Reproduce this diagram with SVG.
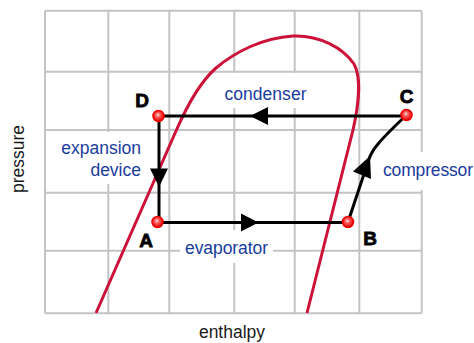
<svg xmlns="http://www.w3.org/2000/svg" width="474" height="343" viewBox="0 0 474 343">
<style>
.grid{stroke:#c4c4c4;stroke-width:2;fill:none}
.lbl{font-family:"Liberation Sans",Arial,sans-serif;font-size:17.5px;fill:#1a3c9e}
.axis{font-family:"Liberation Sans",Arial,sans-serif;font-size:17.5px;fill:#1a1a1a}
.pt{font-family:"Liberation Sans",Arial,sans-serif;font-size:19px;font-weight:bold;fill:#000;stroke:#000;stroke-width:0.8}
.edge{stroke:#000;stroke-width:3;fill:none}
.node{fill:url(#ball);stroke:#ee0000;stroke-width:1.5}
.bg{fill:#fff}
</style>
<defs>
<radialGradient id="ball" cx="0.45" cy="0.4" r="0.6">
<stop offset="0" stop-color="#ffe0e0"/>
<stop offset="0.35" stop-color="#ff5a5a"/>
<stop offset="1" stop-color="#e00000"/>
</radialGradient>
</defs>
<rect width="474" height="343" fill="#fff"/>
<g id="grid">
<path class="grid" d="M45,10.7V313.3 M108.3,10.7V313.3 M169.3,10.7V313.3 M234.3,10.7V313.3 M294.7,10.7V313.3 M359.3,10.7V313.3 M421.7,10.7V313.3"/>
<path class="grid" d="M45,10.7H421.7 M45,71.7H421.7 M45,130H421.7 M45,192.7H421.7 M45,250.7H421.7 M45,313.3H421.7"/>
</g>
<g id="label-bg">
<rect class="bg" x="55" y="132" width="90" height="52"/>
<rect class="bg" x="218" y="73" width="92" height="35"/>
<rect class="bg" x="180" y="230" width="93" height="33"/>
<rect class="bg" x="378" y="152" width="96" height="38"/>
</g>
<g id="dome">
<path d="M96,313 L176,131 C186,108 200,82 216,68 C235,52 262,38 293,36 C320,35 343,48 354,64 C362,78 358,108 353,130 L307,313" fill="none" stroke="#cc1238" stroke-width="3"/>
</g>
<g id="connectors">
<path class="edge" d="M406.5,116 H158.5"/>
<polygon points="250,116 268,107 268,125"/>
<path class="edge" d="M159,116 V222"/>
<polygon points="159,187 150,168.5 168,168.5"/>
<path class="edge" d="M158.5,222.5 H348"/>
<polygon points="258.5,222.5 241,213.5 241,231.5"/>
<path class="edge" d="M348,222 L369,159 C372,150 378,142 406.5,115"/>
<polygon points="370,156 371,179 353,171.5"/>
</g>
<g id="node-D"><circle class="node" cx="158.5" cy="116" r="5.5"/><text class="pt" x="142" y="107" text-anchor="middle">D</text></g>
<g id="node-C"><circle class="node" cx="406.5" cy="115" r="5.5"/><text class="pt" x="406.5" y="103" text-anchor="middle">C</text></g>
<g id="node-A"><circle class="node" cx="157.5" cy="222" r="5.5"/><text class="pt" x="146" y="246.5" text-anchor="middle">A</text></g>
<g id="node-B"><circle class="node" cx="348" cy="222" r="5.5"/><text class="pt" x="370" y="245" text-anchor="middle">B</text></g>
<g id="labels">
<text class="lbl" x="265.5" y="99.5" text-anchor="middle" textLength="82">condenser</text>
<text class="lbl" x="141" y="153.5" text-anchor="end">expansion</text>
<text class="lbl" x="141" y="175.5" text-anchor="end">device</text>
<text class="lbl" x="383" y="176" textLength="90">compressor</text>
<text class="lbl" x="185" y="253.5" textLength="83">evaporator</text>
<text class="axis" x="232" y="338" text-anchor="middle">enthalpy</text>
<text class="axis" transform="translate(23.5,159) rotate(-90)" text-anchor="middle">pressure</text>
</g>
</svg>
